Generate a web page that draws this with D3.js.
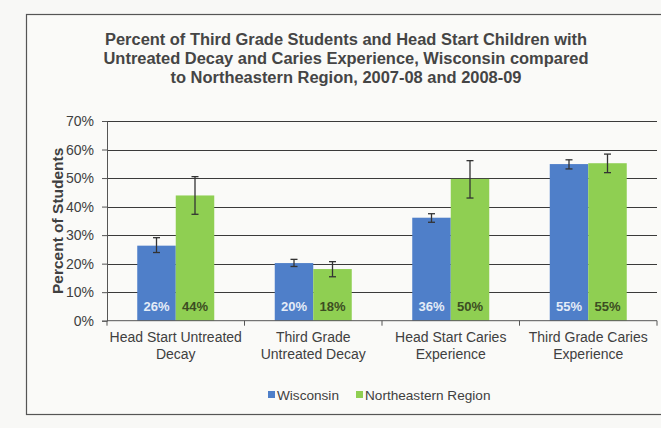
<!DOCTYPE html>
<html>
<head>
<meta charset="utf-8">
<script src="https://cdn.jsdelivr.net/npm/d3@7"></script>
<style>
  html, body { margin: 0; padding: 0; background: #f8f8f6; }
  svg { display: block; font-family: "Liberation Sans", Arial, sans-serif; }
</style>
</head>
<body>
<svg id="chart" width="661" height="428"></svg>
<script>
const categories = [
  ["Head Start Untreated", "Decay"],
  ["Third Grade", "Untreated Decay"],
  ["Head Start Caries", "Experience"],
  ["Third Grade Caries", "Experience"]
];
const seriesNames = ["Wisconsin", "Northeastern Region"];
const wisconsin = [0.263, 0.202, 0.361, 0.549];
const northeastern = [0.439, 0.181, 0.497, 0.552];
const wisconsinLow = [0.239, 0.190, 0.345, 0.532];
const wisconsinHigh = [0.291, 0.215, 0.375, 0.564];
const northeasternLow = [0.373, 0.154, 0.430, 0.519];
const northeasternHigh = [0.505, 0.207, 0.561, 0.584];
const barLabels = [["26%", "44%"], ["20%", "18%"], ["36%", "50%"], ["55%", "55%"]];
const yTicks = [0, 0.1, 0.2, 0.3, 0.4, 0.5, 0.6, 0.7];
const titleLines = [
  "Percent of Third Grade Students and Head Start Children with",
  "Untreated Decay and Caries Experience, Wisconsin compared",
  "to Northeastern Region, 2007-08 and 2008-09"
];

(function () {
const colors = ["#4f7fc9", "#8fcf52"];
const labelColors = ["#e4ecf7", "#3c4d22"];
const textColor = "#404040";

const svg = d3.select("#chart");

// outer chart border
svg.append("rect")
  .attr("x", 26.5).attr("y", 14.5)
  .attr("width", 700).attr("height", 400)
  .attr("fill", "#fafaf8")
  .attr("stroke", "#555").attr("stroke-width", 1.2);

// title
const titleWidths = [482, 485, 351];
svg.append("g").selectAll("text")
  .data(titleLines)
  .join("text")
  .attr("x", 346)
  .attr("y", (d, i) => 44.5 + i * 19)
  .attr("text-anchor", "middle")
  .attr("font-size", 16)
  .attr("font-weight", "bold")
  .attr("fill", "#454545")
  .attr("textLength", (d, i) => titleWidths[i])
  .attr("lengthAdjust", "spacingAndGlyphs")
  .text(d => d);

const pLeft = 107, pRight = 657, pTop = 121, pBottom = 320.7;

const y = d3.scaleLinear().domain([0, 0.7]).range([pBottom, pTop]);
const x0 = d3.scaleBand().domain(d3.range(categories.length)).range([pLeft, pRight]).padding(0);
const x1 = d3.scaleBand().domain([0, 1])
  .range([x0.bandwidth() * 0.22, x0.bandwidth() * 0.78]).padding(0);

// gridlines
svg.append("g")
  .selectAll("line")
  .data(yTicks.slice(1))
  .join("line")
  .attr("x1", pLeft).attr("x2", pRight)
  .attr("y1", d => Math.round(y(d)) + 0.5).attr("y2", d => Math.round(y(d)) + 0.5)
  .attr("stroke", "#3a3a3a").attr("stroke-width", 1);

// y axis
const yAxis = svg.append("g")
  .attr("transform", `translate(${pLeft},0)`)
  .call(d3.axisLeft(y).tickValues(yTicks).tickFormat(d3.format(".0%")).tickSize(5).tickPadding(8));
yAxis.attr("font-size", 14).attr("font-family", "Liberation Sans, Arial, sans-serif");
yAxis.select(".domain").attr("stroke", "#555");
yAxis.selectAll(".tick line").attr("stroke", "#555");
yAxis.selectAll("text").attr("fill", textColor);

// y axis title
svg.append("text")
  .attr("transform", `translate(58,${(pTop + pBottom) / 2}) rotate(-90)`)
  .attr("text-anchor", "middle")
  .attr("dy", "0.35em")
  .attr("font-size", 15.5)
  .attr("font-weight", "bold")
  .attr("fill", textColor)
  .text("Percent of Students");

// bars
const data = categories.map((c, i) => ({
  i,
  vals: [
    { s: 0, v: wisconsin[i], lo: wisconsinLow[i], hi: wisconsinHigh[i], label: barLabels[i][0] },
    { s: 1, v: northeastern[i], lo: northeasternLow[i], hi: northeasternHigh[i], label: barLabels[i][1] }
  ]
}));

const groups = svg.append("g").selectAll("g")
  .data(data)
  .join("g")
  .attr("transform", d => `translate(${x0(d.i)},0)`);

groups.selectAll("rect")
  .data(d => d.vals)
  .join("rect")
  .attr("x", d => x1(d.s))
  .attr("width", x1.bandwidth())
  .attr("y", d => y(d.v))
  .attr("height", d => y(0) - y(d.v))
  .attr("fill", d => colors[d.s]);

// bar labels
groups.selectAll("text.bl")
  .data(d => d.vals)
  .join("text")
  .attr("class", "bl")
  .attr("x", d => x1(d.s) + x1.bandwidth() / 2)
  .attr("y", 311)
  .attr("text-anchor", "middle")
  .attr("font-size", 13)
  .attr("font-weight", "bold")
  .attr("fill", d => labelColors[d.s])
  .text(d => d.label);

// error bars
const eb = groups.selectAll("g.eb")
  .data(d => d.vals)
  .join("g")
  .attr("class", "eb")
  .attr("stroke", "#333")
  .attr("stroke-width", 1.3);
eb.append("line")
  .attr("x1", d => x1(d.s) + x1.bandwidth() / 2)
  .attr("x2", d => x1(d.s) + x1.bandwidth() / 2)
  .attr("y1", d => y(d.lo)).attr("y2", d => y(d.hi));
eb.append("line")
  .attr("x1", d => x1(d.s) + x1.bandwidth() / 2 - 3.5)
  .attr("x2", d => x1(d.s) + x1.bandwidth() / 2 + 3.5)
  .attr("y1", d => y(d.lo)).attr("y2", d => y(d.lo));
eb.append("line")
  .attr("x1", d => x1(d.s) + x1.bandwidth() / 2 - 3.5)
  .attr("x2", d => x1(d.s) + x1.bandwidth() / 2 + 3.5)
  .attr("y1", d => y(d.hi)).attr("y2", d => y(d.hi));

// x axis
const xAxisG = svg.append("g").attr("transform", `translate(0,${pBottom})`);
xAxisG.append("line")
  .attr("x1", pLeft).attr("x2", pRight)
  .attr("y1", 0).attr("y2", 0)
  .attr("stroke", "#555");
xAxisG.selectAll("line.tk")
  .data(d3.range(categories.length + 1))
  .join("line")
  .attr("class", "tk")
  .attr("x1", d => pLeft + d * x0.step()).attr("x2", d => pLeft + d * x0.step())
  .attr("y1", 0).attr("y2", 5)
  .attr("stroke", "#555");

const xl = svg.append("g").selectAll("text")
  .data(categories)
  .join("text")
  .attr("x", (d, i) => x0(i) + x0.bandwidth() / 2)
  .attr("y", 342)
  .attr("text-anchor", "middle")
  .attr("font-size", 14)
  .attr("fill", textColor);
xl.selectAll("tspan")
  .data(d => d)
  .join("tspan")
  .attr("x", function() { return d3.select(this.parentNode).attr("x"); })
  .attr("dy", (d, i) => i === 0 ? 0 : 16.8)
  .text(d => d);

// legend
const legend = svg.append("g");
const legendX = [268, 356];
seriesNames.forEach((name, i) => {
  legend.append("rect")
    .attr("x", legendX[i]).attr("y", 391)
    .attr("width", 7).attr("height", 7)
    .attr("fill", colors[i]);
  legend.append("text")
    .attr("x", legendX[i] + 9).attr("y", 400)
    .attr("font-size", 13.6)
    .attr("fill", textColor)
    .text(name);
});
})();
</script>
</body>
</html>
